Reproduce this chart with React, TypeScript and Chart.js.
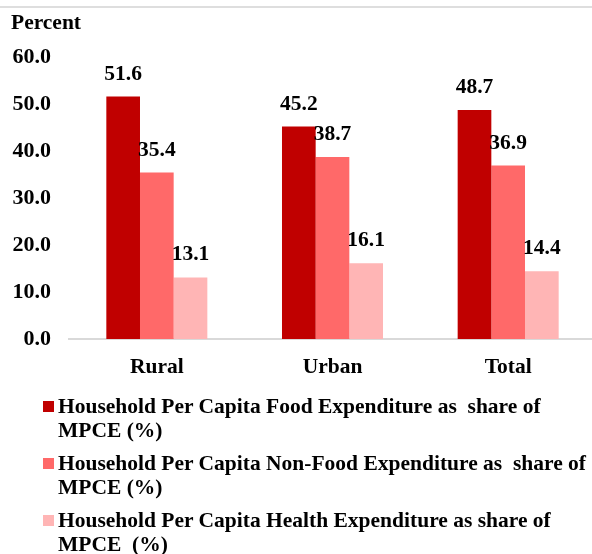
import React, { useEffect, useRef } from "react";
import { Chart, registerables } from "chart.js";

Chart.register(...registerables);

// Chart data
const categories = ["Rural", "Urban", "Total"];
const foodShare = [51.6, 45.2, 48.7];
const nonFoodShare = [35.4, 38.7, 36.9];
const healthShare = [13.1, 16.1, 14.4];

const seriesNames = [
  "Household Per Capita Food Expenditure as  share of\nMPCE (%)",
  "Household Per Capita Non-Food Expenditure as  share of\nMPCE (%)",
  "Household Per Capita Health Expenditure as share of\nMPCE  (%)",
];
const seriesColors = ["#C00000", "#FF6969", "#FFB5B5"];

const yMin = 0;
const yMax = 60;
const yStep = 10;
const yTitle = "Percent";

const FONT = "'Liberation Serif', 'Times New Roman', serif";

// Draws each bar's value centred above it
const valueLabels = {
  id: "valueLabels",
  afterDatasetsDraw(chart: any) {
    const ctx = chart.ctx;
    ctx.save();
    ctx.font = `bold 21.5px ${FONT}`;
    ctx.fillStyle = "#000";
    ctx.textAlign = "center";
    ctx.textBaseline = "middle";
    chart.data.datasets.forEach((ds: any, i: number) => {
      const meta = chart.getDatasetMeta(i);
      meta.data.forEach((el: any, j: number) => {
        ctx.fillText(Number(ds.data[j]).toFixed(1), el.x, el.y - 22.5);
      });
    });
    ctx.restore();
  },
};

export default function App() {
  const canvasRef = useRef<HTMLCanvasElement | null>(null);

  useEffect(() => {
    if (!canvasRef.current) return;
    const values = [foodShare, nonFoodShare, healthShare];
    const chart = new Chart(canvasRef.current, {
      type: "bar",
      data: {
        labels: categories,
        datasets: values.map((data, i) => ({
          label: seriesNames[i],
          data,
          backgroundColor: seriesColors[i],
          borderWidth: 0,
          barPercentage: 1,
          categoryPercentage: 0.575,
        })),
      },
      options: {
        responsive: false,
        animation: false,
        devicePixelRatio: 1,
        layout: { padding: { top: 57, right: 4, bottom: 175, left: 0 } },
        plugins: {
          legend: { display: false },
          tooltip: { enabled: false },
          title: { display: false },
        },
        scales: {
          x: {
            offset: true,
            grid: { display: false, drawTicks: false },
            border: { display: true, color: "#d9d9d9", width: 2 },
            ticks: {
              color: "#000",
              font: { family: FONT, size: 21.5, weight: "bold" },
              padding: 16,
              maxRotation: 0,
            },
            afterFit: (s: any) => {
              s.height = 40;
            },
          },
          y: {
            min: yMin,
            max: yMax,
            grid: { display: false, drawTicks: false },
            border: { display: false },
            ticks: {
              stepSize: yStep,
              color: "#000",
              font: { family: FONT, size: 22, weight: "bold" },
              padding: 18,
              callback: (v: any) => Number(v).toFixed(1),
            },
            afterFit: (s: any) => {
              s.width = 69;
            },
          },
        },
      },
      plugins: [valueLabels],
    });
    return () => chart.destroy();
  }, []);

  return (
    <div
      style={{
        position: "fixed",
        left: 0,
        top: 0,
        width: 592,
        height: 554,
        overflow: "hidden",
        background: "#fff",
        fontFamily: FONT,
      }}
    >
      <div
        style={{
          position: "absolute",
          left: 0,
          top: 6,
          width: 592,
          height: 2,
          background: "#dedede",
        }}
      />
      <canvas
        ref={canvasRef}
        width={600}
        height={554}
        style={{ position: "absolute", left: 0, top: 0, width: 600, height: 554 }}
      />
      <div
        style={{
          position: "absolute",
          left: 11,
          top: 10,
          fontSize: 21.5,
          fontWeight: "bold",
          lineHeight: "24px",
          color: "#000",
        }}
      >
        {yTitle}
      </div>
      <div style={{ position: "absolute", left: 43, top: 394 }}>
        {seriesNames.map((name, i) => (
          <div
            key={i}
            style={{
              position: "relative",
              marginBottom: 9,
              paddingLeft: 15,
              fontSize: 21.5,
              fontWeight: "bold",
              lineHeight: "24px",
              color: "#000",
              whiteSpace: "pre",
            }}
          >
            <span
              style={{
                position: "absolute",
                left: 0,
                top: 6.5,
                width: 11,
                height: 11,
                background: seriesColors[i],
              }}
            />
            {name}
          </div>
        ))}
      </div>
    </div>
  );
}
